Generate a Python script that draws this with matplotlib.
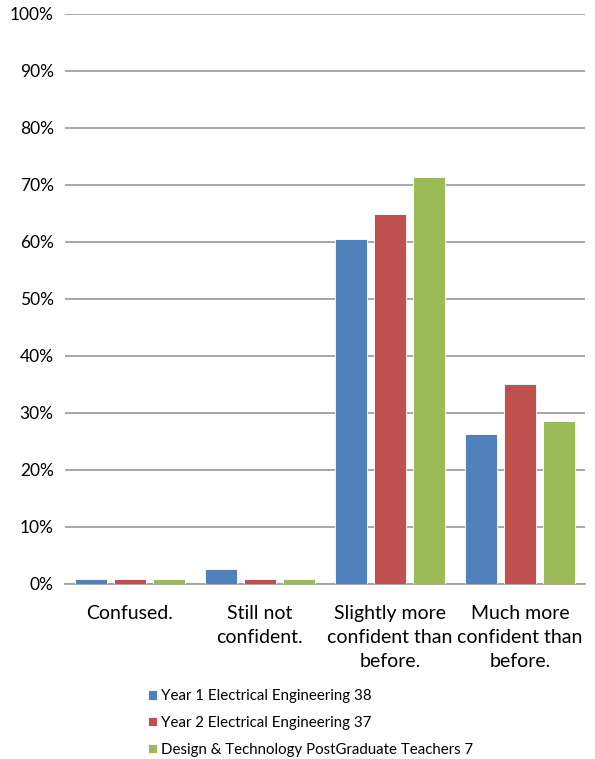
import numpy as np
import matplotlib.pyplot as plt
from matplotlib.ticker import PercentFormatter

plt.rcParams['font.family'] = ['Lato', 'DejaVu Sans']

categories = ['Confused.', 'Still not\nconfident.', 'Slightly more\nconfident than\nbefore.',
              'Much more\nconfident than\nbefore.']
series = ['Year 1 Electrical Engineering 38',
          'Year 2 Electrical Engineering 37',
          'Design & Technology PostGraduate Teachers 7']
year1 = [0.9, 2.6, 60.5, 26.3]
year2 = [0.9, 0.9, 64.9, 35.1]
dt_pg = [0.9, 0.9, 71.4, 28.6]
colors = ['#4F81BD', '#C0504D', '#9BBB59']

fig = plt.figure(figsize=(5.95, 7.59), dpi=100)
ax = fig.add_axes([0.109, 0.2306, 0.874, 0.751])

x = np.arange(len(categories))
for i, (vals, lab, c) in enumerate(zip([year1, year2, dt_pg], series, colors)):
    ax.bar(x + (i - 1) * 0.3, vals, width=0.245, color=c, label=lab,
           edgecolor='white', linewidth=0.6, zorder=3)

ax.set_xlim(-0.5, 3.5)
ax.set_ylim(0, 100)
ax.set_yticks(np.arange(0, 101, 10))
ax.yaxis.set_major_formatter(PercentFormatter(decimals=0))
ax.grid(axis='y', color='#A0A0A0', linewidth=1.3, zorder=0)
for s in ['top', 'right', 'left']:
    ax.spines[s].set_visible(False)
ax.spines['bottom'].set_color('#A0A0A0')
ax.spines['bottom'].set_linewidth(1.3)
ax.tick_params(axis='y', length=0, labelsize=12.5, pad=8)
ax.tick_params(axis='x', length=0, labelsize=14, pad=15)
ax.set_xticks(x)
ax.set_xticklabels(categories, linespacing=1.5)

fig.legend(loc='upper left', bbox_to_anchor=(0.238, 0.100), frameon=False,
           fontsize=10.8, handlelength=0.6, handleheight=0.6, handletextpad=0.3,
           labelspacing=0.85, borderaxespad=0)

fig.savefig('out.png', dpi=100)
